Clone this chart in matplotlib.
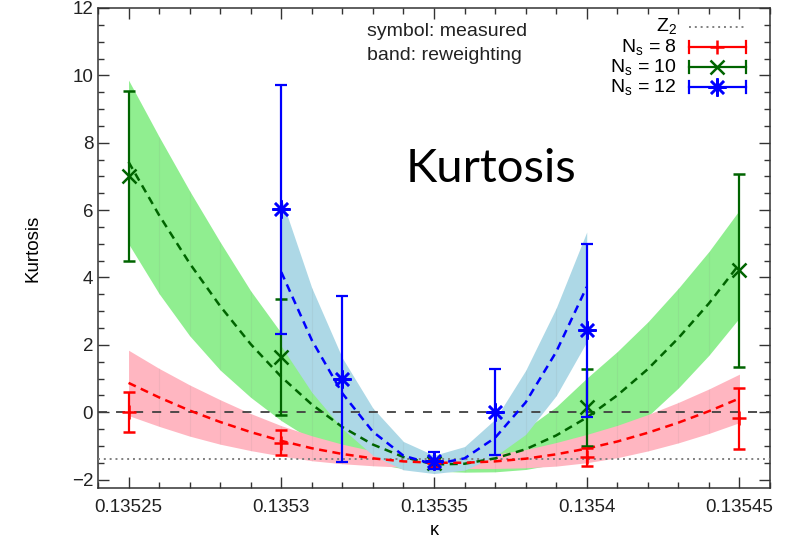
import numpy as np
import matplotlib
matplotlib.use("Agg")
import matplotlib.pyplot as plt
from matplotlib.ticker import MultipleLocator, FixedLocator

plt.rcParams['font.family'] = ['Liberation Sans', 'DejaVu Sans']
plt.rcParams['mathtext.fontset'] = 'custom'
plt.rcParams['mathtext.rm'] = 'Liberation Sans'
plt.rcParams['mathtext.it'] = 'Liberation Sans'
plt.rcParams['mathtext.default'] = 'regular'

# ---- measured kurtosis (symbols) ----
kappa_8_10 = [0.13525, 0.13530, 0.13535, 0.13540, 0.13545]
kurt_ns8 = [0.00, -0.90, -1.52, -1.33, -0.18]
err_ns8 = [0.60, 0.37, 0.10, 0.26, 0.90]
kurt_ns10 = [7.02, 1.64, -1.50, 0.15, 4.21]
err_ns10 = [2.53, 1.72, 0.12, 1.14, 2.86]

kappa_12 = [0.13530, 0.13532, 0.13535, 0.13537, 0.13540]
kurt_ns12 = [6.02, 0.98, -1.44, 0.00, 2.43]
err_ns12 = [3.69, 2.47, 0.26, 1.28, 2.56]

# ---- reweighting results (bands) ----
rw_kappa = [0.13525, 0.13526, 0.13527, 0.13528, 0.13529, 0.13530, 0.13531,
            0.13532, 0.13533, 0.13534, 0.13535, 0.13536, 0.13537, 0.13538,
            0.13539, 0.13540, 0.13541, 0.13542, 0.13543, 0.13544, 0.13545]
rw_ns8 = [0.87, 0.44, 0.05, -0.29, -0.59, -0.85, -1.07, -1.24, -1.37, -1.46,
          -1.50, -1.50, -1.46, -1.38, -1.25, -1.08, -0.87, -0.61, -0.31, 0.03, 0.41]
rw_ns8_err = [0.97, 0.86, 0.76, 0.66, 0.55, 0.45, 0.37, 0.29, 0.22, 0.17,
              0.15, 0.17, 0.21, 0.27, 0.35, 0.42, 0.48, 0.54, 0.60, 0.66, 0.72]
rw_ns10 = [7.43, 5.85, 4.42, 3.15, 2.02, 1.05, 0.23, -0.44, -0.96, -1.33,
           -1.55, -1.53, -1.37, -1.10, -0.69, -0.16, 0.50, 1.28, 2.20, 3.23, 4.40]
rw_ns10_err = [2.43, 2.33, 2.15, 1.90, 1.58, 1.30, 1.05, 0.80, 0.55, 0.35,
               0.20, 0.25, 0.40, 0.60, 0.85, 1.17, 1.30, 1.40, 1.48, 1.54, 1.60]

rw_kappa_12 = [0.13530, 0.13531, 0.13532, 0.13533, 0.13534, 0.13535,
               0.13536, 0.13537, 0.13538, 0.13539, 0.13540]
rw_ns12 = [4.16, 2.14, 0.56, -0.58, -1.29, -1.55, -1.37, -0.76, 0.29, 1.79, 3.72]
rw_ns12_err = [2.20, 1.55, 1.05, 0.70, 0.42, 0.27, 0.35, 0.55, 0.95, 1.30, 1.63]

z2_value = -1.396

x_ticks = [0.13525, 0.13530, 0.13535, 0.13540, 0.13545]
x_labels = ["0.13525", "0.1353", "0.13535", "0.1354", "0.13545"]

RED, GREEN, BLUE = "#ff0000", "#006400", "#0000ff"
PINK, LGREEN, LBLUE = "#ffb6c1", "#90ee90", "#add8e6"

fig = plt.figure(figsize=(7.92, 5.46), dpi=100)
ax = fig.add_axes([98 / 792, 1 - 488 / 546, 672 / 792, 480 / 546])


def band(xs, center, half, face, line, z):
    xs = np.asarray(xs)
    c = np.asarray(center)
    h = np.asarray(half)
    ax.fill_between(xs, c - h, c + h, color=face, lw=0, zorder=z)
    # faint seams between the reweighting slices
    ax.vlines(xs[1:-1], (c - h)[1:-1], (c + h)[1:-1], colors="#808080",
              alpha=0.10, lw=0.8, zorder=z + 0.1)
    ax.plot(xs, c, color=line, lw=1.8, ls=(0, (3.2, 2.2)), zorder=5)


band(rw_kappa, rw_ns10, rw_ns10_err, LGREEN, GREEN, 1)
band(rw_kappa, rw_ns8, rw_ns8_err, PINK, RED, 2)
band(rw_kappa_12, rw_ns12, rw_ns12_err, LBLUE, BLUE, 3)

# reference lines
ax.axhline(0.0, color="#404040", lw=1.3, ls=(0, (5, 5)), zorder=4)
ax.axhline(z2_value, color="#808080", lw=1.4, ls=(0, (1, 2)), zorder=4)

asterisk = (8, 2, 0)
ax.errorbar(kappa_8_10, kurt_ns10, yerr=err_ns10, fmt="x", color=GREEN,
            ms=10, mew=1.8, lw=1.6, capsize=4, capthick=1.6, zorder=6)
ax.errorbar(kappa_8_10, kurt_ns8, yerr=err_ns8, fmt="+", color=RED,
            ms=10, mew=1.8, lw=1.6, capsize=4, capthick=1.6, zorder=7)
ax.errorbar(kappa_12, kurt_ns12, yerr=err_ns12, fmt="none", ecolor=BLUE,
            lw=1.6, capsize=4, capthick=1.6, zorder=8)
ax.plot(kappa_12, kurt_ns12, ls="none", marker=asterisk, color=BLUE,
        ms=13, mew=1.8, zorder=9)

ax.set_xlim(0.13524, 0.13546)
ax.set_ylim(-2.25, 12)
ax.xaxis.set_major_locator(FixedLocator(x_ticks))
ax.set_xticklabels(x_labels)
ax.xaxis.set_minor_locator(MultipleLocator(0.00001))
ax.yaxis.set_major_locator(MultipleLocator(2))
ax.yaxis.set_minor_locator(MultipleLocator(0.5))
ax.tick_params(which="both", direction="in", top=True, right=True,
               labelsize=13.5, colors="#333333", labelcolor="#222222")
ax.tick_params(which="major", length=8, width=1)
ax.tick_params(which="minor", length=4, width=1)
ax.tick_params(axis="x", pad=8)
for s in ax.spines.values():
    s.set_color("#333333")
    s.set_linewidth(1.1)

ax.set_xlabel("κ", fontsize=13, labelpad=4)
ax.set_ylabel("Kurtosis", fontsize=13.5, labelpad=22)

ax.text(0.401, 0.950, "symbol: measured", transform=ax.transAxes,
        fontsize=14, va="center", ha="left", color="#222222")
ax.text(0.401, 0.902, "band: reweighting", transform=ax.transAxes,
        fontsize=14, va="center", ha="left", color="#222222")
ax.text(0.585, 0.665, "Kurtosis", transform=ax.transAxes, fontsize=34,
        family=["Lato", "DejaVu Sans"], ha="center", va="center", color="black")

# key
x0, x1, xm, xt = 0.8795, 0.9638, 0.9217, 0.8616
rows = [0.9604, 0.9188, 0.8771, 0.8354]
cap = 0.012
ax.plot([x0, x1], [rows[0]] * 2, transform=ax.transAxes, color="#808080",
        lw=1.4, ls=(0, (1, 2)), clip_on=False)
ax.text(xt, rows[0] + 0.003, "$Z_2$", transform=ax.transAxes, fontsize=14,
        ha="right", va="center")
keys = [("$N_s$ = 8", RED, "+", 10), ("$N_s$ = 10", GREEN, "x", 10),
        ("$N_s$ = 12", BLUE, asterisk, 13)]
for (label, col, mk, ms), yy in zip(keys, rows[1:]):
    ax.plot([x0, x1], [yy, yy], transform=ax.transAxes, color=col, lw=1.6,
            clip_on=False)
    for xc in (x0, x1):
        ax.plot([xc, xc], [yy - cap, yy + cap], transform=ax.transAxes,
                color=col, lw=1.6, clip_on=False)
    ax.plot([xm], [yy], transform=ax.transAxes, color=col, marker=mk, ms=ms,
            mew=1.8, ls="none", clip_on=False)
    ax.text(xt, yy, label, transform=ax.transAxes, fontsize=14,
            ha="right", va="center")

fig.savefig("out.png", dpi=100)
